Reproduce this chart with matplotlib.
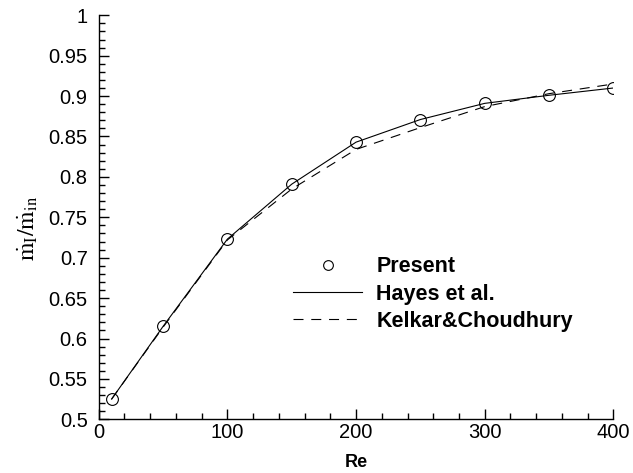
import matplotlib
matplotlib.use("Agg")
import matplotlib.pyplot as plt
from matplotlib.ticker import MultipleLocator

plt.rcParams['font.family'] = ['Liberation Sans', 'DejaVu Sans']
plt.rcParams['mathtext.fontset'] = 'stix'

# data
re = [10, 50, 100, 150, 200, 250, 300, 350, 400]
present = [0.525, 0.615, 0.723, 0.791, 0.843, 0.871, 0.891, 0.901, 0.910]
hayes = [0.525, 0.615, 0.723, 0.791, 0.843, 0.871, 0.891, 0.901, 0.910]
kelkar = [0.525, 0.614, 0.722, 0.785, 0.834, 0.861, 0.887, 0.903, 0.915]

fig = plt.figure(figsize=(6.33, 4.73), dpi=100)
ax = fig.add_axes([0.156, 0.1135, 0.813, 0.8542])

ax.plot(re, present, linestyle='none', marker='o', markersize=8.5,
        markerfacecolor='none', markeredgecolor='black', markeredgewidth=0.8,
        label='Present')
ax.plot(re, hayes, color='black', lw=0.8, label='Hayes et al.')
ax.plot(re, kelkar, color='black', lw=0.8, dashes=(9, 7),
        label='Kelkar&Choudhury')

ax.set_xlim(0, 400)
ax.set_ylim(0.5, 1.0)
ax.xaxis.set_major_locator(MultipleLocator(100))
ax.xaxis.set_minor_locator(MultipleLocator(20))
ax.yaxis.set_minor_locator(MultipleLocator(0.01))
ax.set_yticks([0.5, 0.55, 0.6, 0.65, 0.7, 0.75, 0.8, 0.85, 0.9, 0.95, 1.0])
ax.set_yticklabels(['0.5', '0.55', '0.6', '0.65', '0.7', '0.75', '0.8',
                    '0.85', '0.9', '0.95', '1'])

for s in ['top', 'right']:
    ax.spines[s].set_visible(False)
for s in ['left', 'bottom']:
    ax.spines[s].set_linewidth(1.0)

ax.tick_params(which='both', direction='in', width=1.0, labelsize=14.5)
ax.tick_params(which='major', length=7)
ax.tick_params(which='minor', length=4)
ax.tick_params(axis='y', which='major', pad=8)
ax.tick_params(axis='x', which='major', pad=3)

ax.set_xlabel('Re', fontsize=13, fontweight='bold')
ax.xaxis.set_label_coords(0.5, -0.085)
ax.set_ylabel(r'$\dot{\mathrm{m}}_{\mathrm{I}}/\dot{\mathrm{m}}_{\mathrm{in}}$', fontsize=17)
ax.yaxis.set_label_coords(-0.115, 0.473)

leg = ax.legend(loc='center left', bbox_to_anchor=(0.34, 0.31), frameon=False,
                numpoints=1, handlelength=3.2, handletextpad=0.67,
                labelspacing=0.3, prop={'weight': 'bold', 'size': 15.5})
leg.legend_handles[0].set_markersize(7)

fig.savefig('out.png', dpi=100)
